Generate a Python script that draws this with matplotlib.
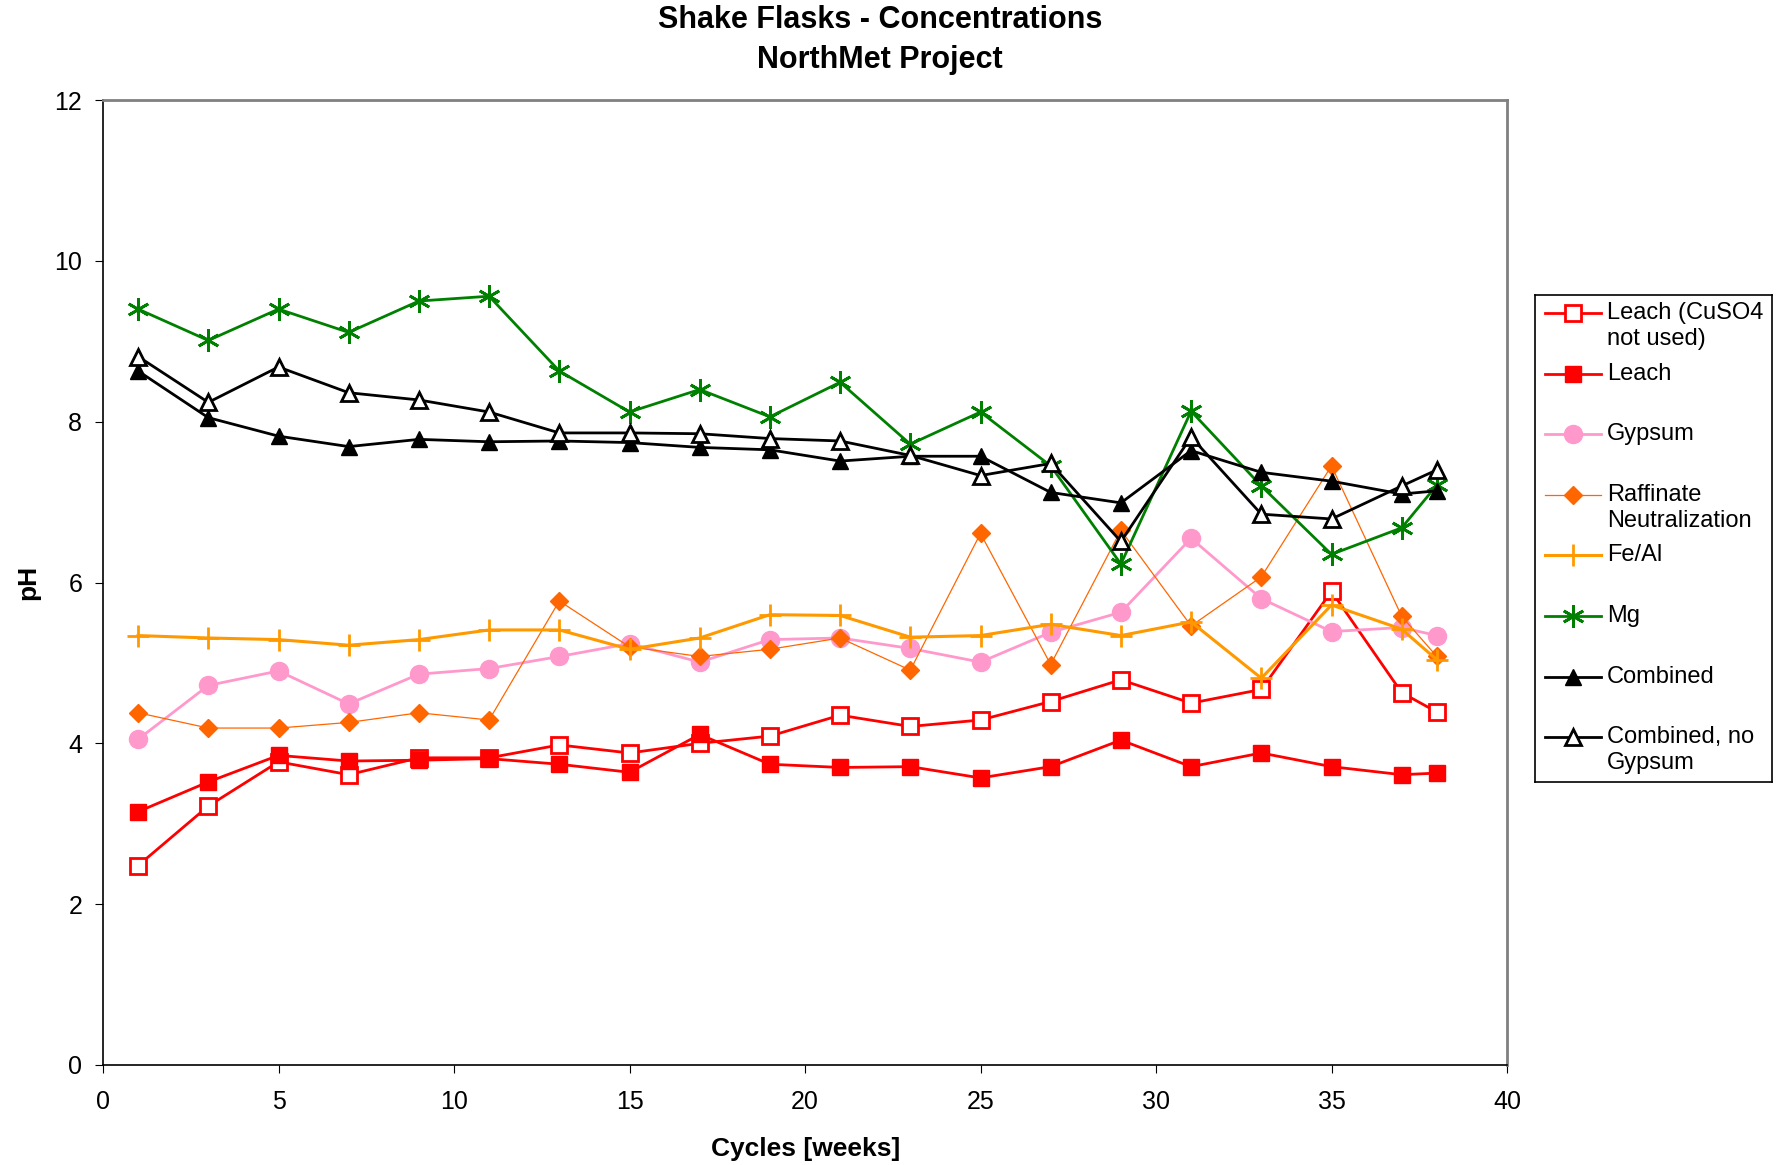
import matplotlib
matplotlib.use('Agg')
import matplotlib.pyplot as plt
from matplotlib.lines import Line2D

matplotlib.rcParams['font.family'] = ['Liberation Sans', 'DejaVu Sans']
matplotlib.rcParams['font.size'] = 17

# data
weeks = [1, 3, 5, 7, 9, 11, 13, 15, 17, 19, 21, 23, 25, 27, 29, 31, 33, 35, 37, 38]

leach_nocu = [2.48, 3.22, 3.77, 3.61, 3.82, 3.82, 3.98, 3.88, 4.00, 4.09,
              4.35, 4.21, 4.29, 4.52, 4.79, 4.50, 4.67, 5.89, 4.63, 4.39]
leach = [3.15, 3.52, 3.85, 3.78, 3.79, 3.81, 3.74, 3.64, 4.11, 3.74,
         3.70, 3.71, 3.57, 3.71, 4.04, 3.71, 3.88, 3.71, 3.61, 3.63]
gypsum = [4.05, 4.72, 4.90, 4.49, 4.86, 4.93, 5.08, 5.24, 5.01, 5.29,
          5.31, 5.18, 5.01, 5.38, 5.63, 6.55, 5.80, 5.39, 5.44, 5.34]
raffinate = [4.38, 4.19, 4.19, 4.26, 4.38, 4.29, 5.77, 5.20, 5.08, 5.17,
             5.31, 4.91, 6.61, 4.98, 6.65, 5.46, 6.07, 7.45, 5.58, 5.08]
feal = [5.34, 5.31, 5.29, 5.22, 5.29, 5.41, 5.41, 5.17, 5.31, 5.60,
        5.59, 5.32, 5.34, 5.48, 5.34, 5.51, 4.81, 5.72, 5.42, 5.04]
mg = [9.40, 9.01, 9.40, 9.11, 9.50, 9.56, 8.63, 8.12, 8.40, 8.06,
      8.49, 7.72, 8.12, 7.45, 6.23, 8.13, 7.20, 6.35, 6.68, 7.21]
combined = [8.63, 8.05, 7.82, 7.69, 7.78, 7.75, 7.76, 7.74, 7.68, 7.65,
            7.51, 7.57, 7.57, 7.12, 6.99, 7.64, 7.37, 7.26, 7.10, 7.14]
combined_nogyp = [8.81, 8.24, 8.68, 8.36, 8.27, 8.12, 7.86, 7.86, 7.85, 7.79,
                  7.76, 7.58, 7.33, 7.48, 6.51, 7.81, 6.85, 6.79, 7.20, 7.40]

W, H = 1780, 1165
fig = plt.figure(figsize=(W / 100, H / 100), dpi=100)
ax = fig.add_axes([103 / W, (H - 1065) / H, 1404 / W, 965 / H])

styles = [
    (leach_nocu, 'Leach (CuSO4\nnot used)',
     dict(color='#FF0000', lw=2, marker='s', ms=11, mfc='white', mec='#FF0000', mew=2)),
    (leach, 'Leach',
     dict(color='#FF0000', lw=2, marker='s', ms=12, mfc='#FF0000', mec='#FF0000')),
    (gypsum, 'Gypsum',
     dict(color='#FF99CC', lw=2, marker='o', ms=13, mfc='#FF99CC', mec='#FF99CC')),
    (raffinate, 'Raffinate\nNeutralization',
     dict(color='#FF6600', lw=0.9, marker='D', ms=9, mfc='#FF6600', mec='#FF6600')),
    (feal, 'Fe/Al',
     dict(color='#FF9900', lw=2.2, marker='+', ms=16, mew=2, mec='#FF9900')),
    (mg, 'Mg',
     dict(color='#008000', lw=2, marker=(6, 2, 0), ms=16, mew=2, mec='#008000')),
    (combined, 'Combined',
     dict(color='black', lw=2, marker='^', ms=12, mfc='black', mec='black')),
    (combined_nogyp, 'Combined, no\nGypsum',
     dict(color='black', lw=2, marker='^', ms=12, mfc='white', mec='black', mew=2)),
]

for vals, lab, st in styles:
    ax.plot(weeks, vals, label=lab, **st)

ax.set_xlim(0, 40)
ax.set_ylim(0, 12)
ax.set_xticks(range(0, 41, 5))
ax.set_yticks(range(0, 13, 2))
ax.tick_params(direction='out', length=6, labelsize=18)
ax.tick_params(axis='x', pad=12)
ax.tick_params(axis='y', pad=9)

for s in ['top', 'right']:
    ax.spines[s].set_color('#808080')
    ax.spines[s].set_linewidth(2)
ax.spines['left'].set_linewidth(1.2)
ax.spines['bottom'].set_linewidth(1.2)

fig.text(806 / W, 1 - 1149 / H, 'Cycles [weeks]', fontsize=19,
         fontweight='bold', ha='center', va='center')
fig.text(28 / W, 1 - 582 / H, 'pH', fontsize=19, fontweight='bold',
         ha='center', va='center', rotation=90)
fig.text(880 / W, 1 - 20 / H, 'Shake Flasks - Concentrations', fontsize=22,
         fontweight='bold', ha='center', va='center')
fig.text(880 / W, 1 - 60 / H, 'NorthMet Project', fontsize=22,
         fontweight='bold', ha='center', va='center')

# Excel style legend: evenly spaced rows, text lines hanging below the handle
lx0, lx1, ly0, ly1 = 1535, 1772, 295, 782
lax = fig.add_axes([lx0 / W, (H - ly1) / H, (lx1 - lx0) / W, (ly1 - ly0) / H])
lax.set_xlim(lx0, lx1)
lax.set_ylim(ly1, ly0)
lax.set_xticks([])
lax.set_yticks([])
for s in lax.spines.values():
    s.set_linewidth(1.2)
    s.set_color('black')

row_y = 313
for vals, lab, st in styles:
    lax.add_line(Line2D([1545, 1601], [row_y, row_y], color=st['color'], lw=st['lw']))
    mst = {k: v for k, v in st.items() if k not in ('color', 'lw')}
    lax.plot([1573], [row_y], ls='none', **mst)
    for j, part in enumerate(lab.split('\n')):
        lax.text(1607, row_y + j * 26, part, fontsize=17, ha='left', va='center')
    row_y += 60.6

plt.savefig('out.png', dpi=100)
